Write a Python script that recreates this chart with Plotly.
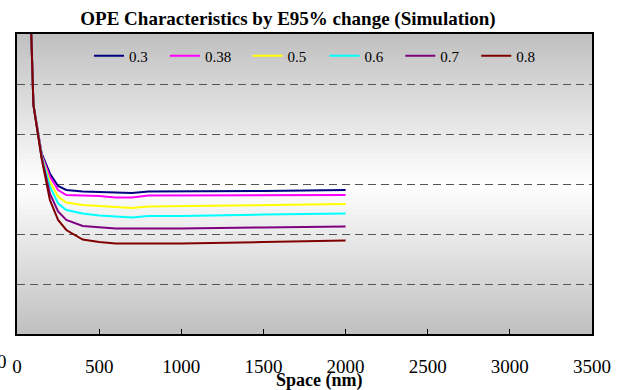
import plotly.graph_objects as go

# ---- data ----
space_nm = [50, 100, 150, 200, 250, 300, 400, 500, 600, 700, 800, 1000, 1500, 2000]
series_names = ["0.3", "0.38", "0.5", "0.6", "0.7", "0.8"]
e95_03 = [160, 105.8, 96.1, 92.1, 89.6, 88.8, 88.5, 88.4, 88.2, 88.2, 88.5, 88.5, 88.6, 88.8]
e95_038 = [160, 105.8, 95.8, 91.5, 88.8, 87.8, 87.7, 87.6, 87.3, 87.3, 87.7, 87.7, 87.7, 87.8]
e95_05 = [160, 105.8, 95.6, 90.5, 87.5, 86.3, 85.8, 85.6, 85.5, 85.2, 85.5, 85.6, 85.8, 86.0]
e95_06 = [160, 105.8, 95.5, 89.5, 86.1, 84.8, 84.1, 83.7, 83.5, 83.3, 83.6, 83.6, 83.9, 84.1]
e95_07 = [160, 105.8, 95.3, 88.1, 84.5, 82.8, 81.6, 81.3, 81.1, 81.1, 81.1, 81.1, 81.3, 81.5]
e95_08 = [160, 105.8, 95.1, 86.8, 82.8, 80.8, 78.9, 78.4, 78.1, 78.1, 78.1, 78.1, 78.4, 78.7]
series_values = [e95_03, e95_038, e95_05, e95_06, e95_07, e95_08]
x_ticks = [0, 500, 1000, 1500, 2000, 2500, 3000, 3500]

colors = ["#000080", "#FF00FF", "#FFFF00", "#00FFFF", "#800080", "#800000"]
legend_px = [95, 173, 258, 337, 415, 493]   # left edge of each legend line sample (px)
SERIF = "Liberation Serif"

W, H = 623, 390
L, R, T, B = 12, 20, 34, 56
pw = W - L - R

fig = go.Figure()
legend_layouts = {}
for k, (name, vals, col) in enumerate(zip(series_names, series_values, colors)):
    lg = "legend" if k == 0 else f"legend{k + 1}"
    fig.add_trace(go.Scatter(x=space_nm, y=vals, name=name, mode="lines",
                             line=dict(color=col, width=2), legend=lg))
    legend_layouts[lg] = dict(orientation="h", x=(legend_px[k] - 9 - L) / pw,
                              xanchor="left", y=(334 - 56) / 300, yanchor="middle",
                              bgcolor="rgba(0,0,0,0)", borderwidth=0,
                              font=dict(family=SERIF, size=15, color="black"))

# gradient background for the plot area (gray - white - gray)
n = 60
shapes = []
for i in range(n):
    t0, t1 = i / n, (i + 1) / n
    tm = (t0 + t1) / 2
    f = 1 - abs(tm - 0.5) * 2
    v = int(round(192 + (255 - 192) * f))
    shapes.append(dict(type="rect", xref="paper", yref="paper", x0=0, x1=1,
                       y0=t0, y1=t1 + 0.002, fillcolor=f"rgb({v},{v},{v})",
                       line=dict(width=0), layer="below"))

fig.update_layout(
    width=W, height=H,
    margin=dict(l=L, r=R, t=T, b=B),
    paper_bgcolor="white", plot_bgcolor="white",
    shapes=shapes,
    title=dict(text="OPE Characteristics by E95% change (Simulation)",
               x=288 / W, xref="container", xanchor="center",
               y=1 - 18 / H, yref="container", yanchor="middle",
               font=dict(family=SERIF, size=19, color="black", weight="bold")),
    xaxis=dict(range=[0, 3500], tickvals=x_ticks, ticks="inside", ticklen=5,
               tickcolor="black", showgrid=False, zeroline=False,
               showline=True, linecolor="black", linewidth=1.5, mirror=True,
               tickfont=dict(family=SERIF, size=19, color="black"),
               ticklabelstandoff=14),
    yaxis=dict(range=[60, 120], dtick=10, showticklabels=False, ticks="",
               showgrid=True, gridcolor="#555555", gridwidth=1,
               griddash="8px,5px", zeroline=False,
               showline=True, linecolor="black", linewidth=1.5, mirror=True),
    showlegend=True,
    annotations=[
        dict(text="Space (nm)", xref="paper", yref="paper",
             x=(323 - L) / pw, y=0, yshift=-46, xanchor="center", yanchor="middle",
             showarrow=False,
             font=dict(family=SERIF, size=18, color="black", weight="bold")),
        dict(text="0", xref="paper", yref="paper", x=(4 - L) / pw, y=0,
             yshift=-27, xanchor="right", yanchor="middle", showarrow=False,
             font=dict(family=SERIF, size=19, color="black")),
    ],
    **legend_layouts,
)

fig.write_html("out.html")
